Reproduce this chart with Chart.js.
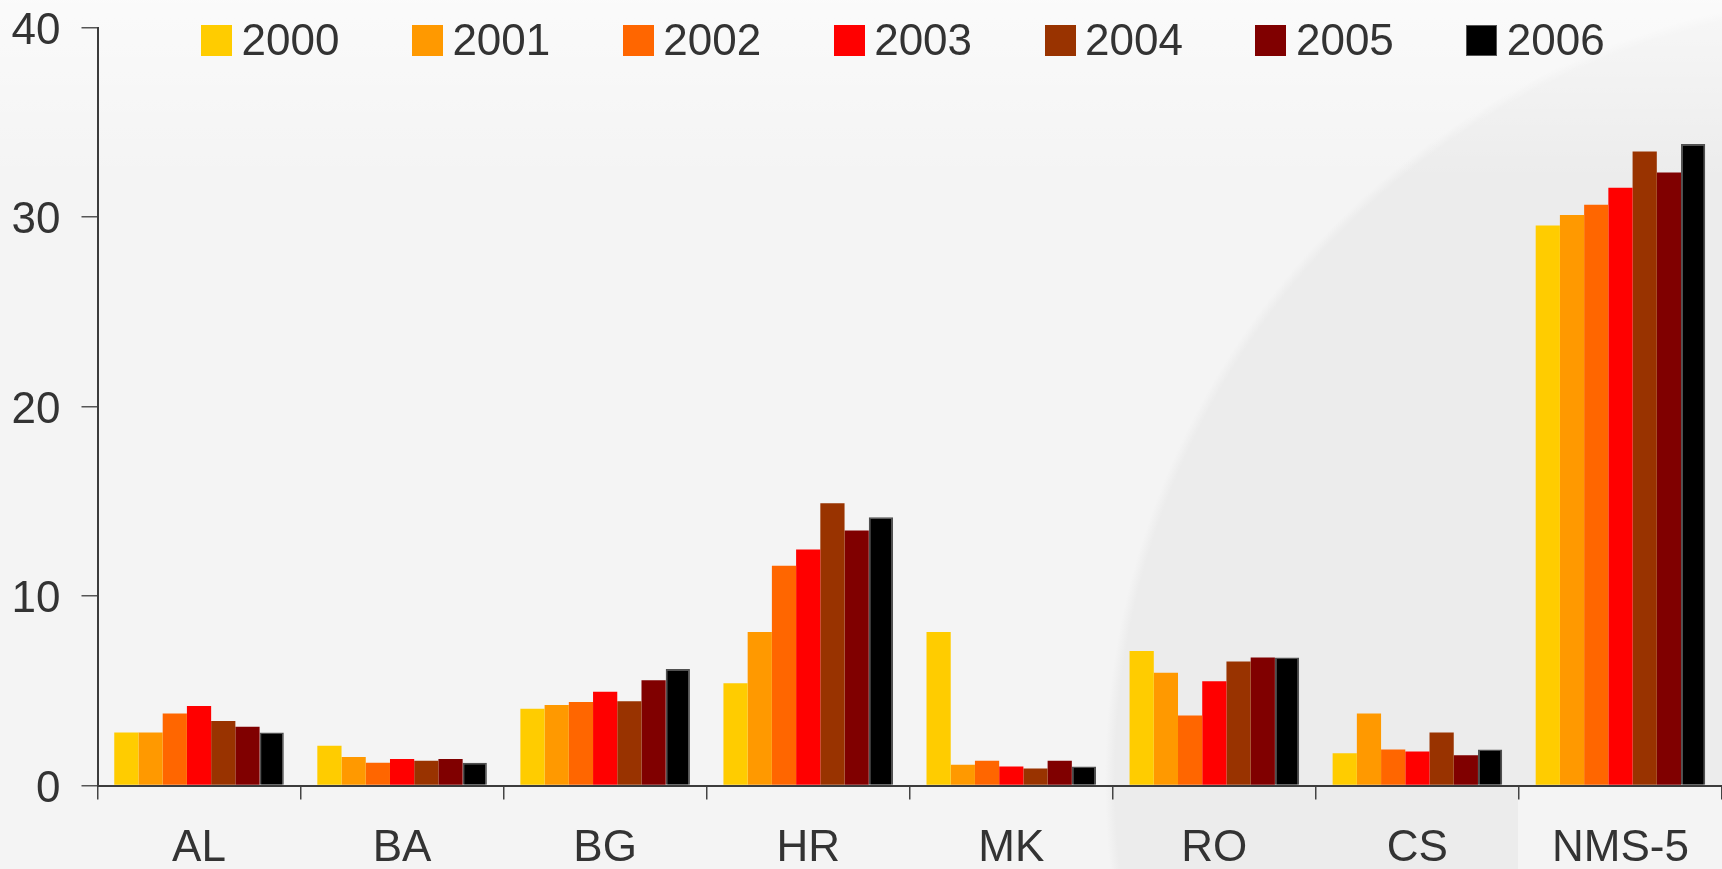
<!DOCTYPE html>
<html>
<head>
<meta charset="utf-8">
<script src="https://cdn.jsdelivr.net/npm/chart.js@4"></script>
<style>
  html, body { margin: 0; padding: 0; overflow: hidden; background: #f4f4f4; }
  #wrap { position: relative; width: 1722px; height: 869px; }
  #legend {
    position: absolute; left: 201px; top: 18px;
    display: flex; align-items: center; gap: 72.5px;
    font-family: "Liberation Sans", Arial, sans-serif; font-size: 44px; line-height: 44px; color: #333;
  }
  .item { display: flex; align-items: center; }
  .box { width: 31px; height: 31px; margin-right: 9.5px; box-sizing: border-box; }
</style>
</head>
<body>
<div id="wrap">
  <canvas id="chart"></canvas>
  <div id="legend"></div>
</div>
<script>
// Chart data
const categories = ['AL', 'BA', 'BG', 'HR', 'MK', 'RO', 'CS', 'NMS-5'];
const years = ['2000', '2001', '2002', '2003', '2004', '2005', '2006'];
const values2000 = [2.8, 2.1, 4.05, 5.4, 8.1, 7.1, 1.7, 29.55];
const values2001 = [2.8, 1.5, 4.25, 8.1, 1.1, 5.95, 3.8, 30.1];
const values2002 = [3.8, 1.2, 4.4, 11.6, 1.3, 3.7, 1.9, 30.65];
const values2003 = [4.2, 1.4, 4.95, 12.45, 1.0, 5.5, 1.8, 31.55];
const values2004 = [3.4, 1.3, 4.45, 14.9, 0.9, 6.55, 2.8, 33.45];
const values2005 = [3.1, 1.4, 5.55, 13.45, 1.3, 6.75, 1.6, 32.35];
const values2006 = [2.8, 1.2, 6.15, 14.15, 1.0, 6.75, 1.9, 33.85];
const yearColors = ['#FFCC00', '#FF9900', '#FF6600', '#FF0000', '#993300', '#800000', '#000000'];
const yTicks = [0, 10, 20, 30, 40];

const seriesValues = [values2000, values2001, values2002, values2003, values2004, values2005, values2006];
const FONT = '"Liberation Sans", Arial, sans-serif';

// Slide-like background: light grey, big soft circle on the right, white fade at top
const backgroundPlugin = {
  id: 'slideBackground',
  beforeDraw: (chart) => {
    const ctx = chart.ctx;
    const w = chart.width, h = chart.height;
    const bottom = chart.chartArea.bottom;
    ctx.save();
    ctx.fillStyle = '#f4f4f4';
    ctx.fillRect(0, 0, w, h);

    ctx.beginPath();
    ctx.rect(0, 0, w, bottom);
    ctx.rect(0, bottom, 1518, h - bottom);
    ctx.clip();
    const cx = 1892, cy = 780, r = 782;
    const grad = ctx.createRadialGradient(cx, cy, 0, cx, cy, r + 5);
    grad.addColorStop(0, '#ececec');
    grad.addColorStop((r - 5) / (r + 5), '#ececec');
    grad.addColorStop(1, 'rgba(236,236,236,0)');
    ctx.fillStyle = grad;
    ctx.fillRect(0, 0, w, h);
    ctx.restore();

    ctx.save();
    const top = ctx.createLinearGradient(0, 0, 0, 180);
    top.addColorStop(0, 'rgba(255,255,255,0.6)');
    top.addColorStop(1, 'rgba(255,255,255,0)');
    ctx.fillStyle = top;
    ctx.fillRect(0, 0, w, 180);
    ctx.restore();
  }
};

const datasets = years.map((year, i) => ({
  label: year,
  data: seriesValues[i],
  backgroundColor: yearColors[i],
  borderColor: i === 6 ? '#505050' : yearColors[i],
  borderWidth: i === 6 ? 1.5 : 0,
  categoryPercentage: 0.835,
  barPercentage: 1.0
}));

new Chart(document.getElementById('chart'), {
  type: 'bar',
  data: { labels: categories, datasets: datasets },
  options: {
    responsive: true,
    maintainAspectRatio: false,
    animation: false,
    layout: { padding: { top: 27.5, left: 0, right: 0, bottom: 0 } },
    plugins: {
      legend: { display: false },
      tooltip: { enabled: false }
    },
    scales: {
      x: {
        grid: { offset: true, drawOnChartArea: false, drawTicks: true, tickLength: 14, color: '#444', lineWidth: 1.5 },
        border: { color: '#3c3c3c', width: 2 },
        ticks: { font: { family: FONT, size: 44 }, color: '#333', padding: 23, maxRotation: 0 },
        afterFit: (scale) => { scale.height = 83.5; }
      },
      y: {
        min: 0,
        max: 40,
        afterBuildTicks: (scale) => { scale.ticks = yTicks.map(v => ({ value: v })); },
        grid: { drawOnChartArea: false, drawTicks: true, tickLength: 16, color: '#555', lineWidth: 1.5 },
        border: { color: '#3c3c3c', width: 2 },
        ticks: {
          font: { family: FONT, size: 44, lineHeight: '8px' },
          color: '#333',
          padding: 21,
          // empty first line nudges the number a few px below its tick, like the original
          callback: (value) => ['', String(value)]
        },
        afterFit: (scale) => {
          scale.width = 97.5;
          // labels may overflow the plot top, as in the original slide
          scale.paddingTop = 0;
          scale.paddingBottom = 0;
        }
      }
    }
  },
  plugins: [backgroundPlugin]
});

// HTML legend built from the series
const legend = document.getElementById('legend');
years.forEach((year, i) => {
  const item = document.createElement('div');
  item.className = 'item';
  const box = document.createElement('span');
  box.className = 'box';
  box.style.background = yearColors[i];
  if (i === 6) box.style.border = '1.5px solid #555';
  const text = document.createElement('span');
  text.textContent = year;
  item.appendChild(box);
  item.appendChild(text);
  legend.appendChild(item);
});
</script>
</body>
</html>
